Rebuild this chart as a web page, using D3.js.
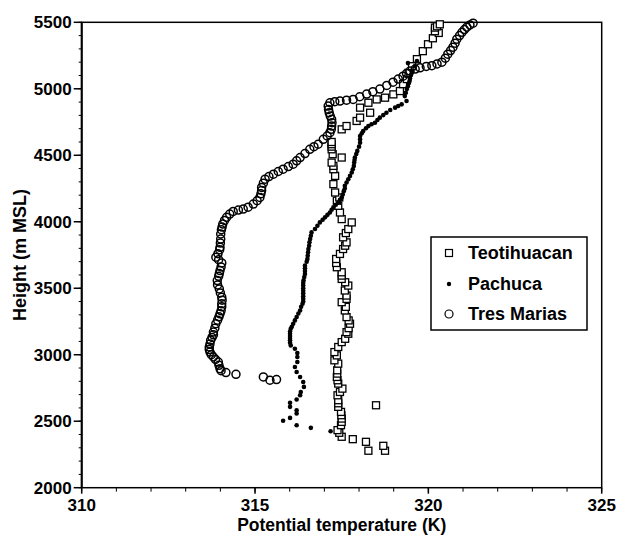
<!DOCTYPE html>
<html><head><meta charset="utf-8">
<script src="https://cdn.jsdelivr.net/npm/d3@7"></script>
<style>body{margin:0;background:#fff}svg{display:block}text{font-family:"Liberation Sans",Arial,sans-serif;font-weight:bold;fill:#000}</style>
</head><body><svg id="c" width="617" height="535"></svg>
<script>
const xTicks = [310, 315, 320, 325];
const yTicks = [2000, 2500, 3000, 3500, 4000, 4500, 5000, 5500];
const seriesNames = ["Teotihuacan", "Pachuca", "Tres Marias"];
const xLabel = "Potential temperature (K)";
const yLabel = "Height (m MSL)";

const teotihuacan = [[318.75,2278],[318.27,2278],[318.70,2315],[318.20,2345],[317.82,2365],[317.50,2383],[317.43,2413],[317.38,2433],[317.48,2470],[317.50,2495],[317.50,2520],[317.49,2545],[317.48,2570],[317.40,2608],[318.49,2620],[317.40,2635],[317.40,2658],[317.38,2695],[317.45,2720],[317.52,2745],[317.40,2783],[317.38,2808],[317.36,2833],[317.37,2858],[317.37,2883],[317.40,2933],[317.29,2958],[317.36,2995],[317.29,3020],[317.40,3058],[317.50,3095],[317.60,3120],[317.69,3158],[317.64,3170],[317.70,3200],[317.74,3233],[317.70,3258],[317.64,3283],[317.59,3333],[317.62,3360],[317.50,3395],[317.64,3420],[317.64,3445],[317.59,3483],[317.69,3520],[317.60,3545],[317.50,3570],[317.50,3595],[317.50,3620],[317.36,3658],[317.34,3690],[317.34,3720],[317.45,3758],[317.54,3795],[317.60,3820],[317.64,3845],[317.54,3883],[317.62,3915],[317.69,3945],[317.79,3995],[317.50,4020],[317.45,4070],[317.40,4120],[317.36,4158],[317.43,4183],[317.31,4220],[317.26,4283],[317.31,4345],[317.26,4395],[317.26,4420],[317.21,4445],[317.50,4483],[317.24,4508],[317.21,4545],[317.21,4565],[317.21,4583],[317.21,4600],[317.50,4695],[317.64,4720],[317.93,4758],[318.03,4783],[318.32,4820],[318.03,4858],[318.27,4895],[318.51,4920],[318.75,4933],[318.99,4958],[319.18,4983],[319.27,5035],[319.38,5073],[319.43,5120],[319.53,5170],[319.67,5223],[319.84,5283],[319.99,5335],[320.13,5380],[320.30,5420],[320.19,5433],[320.19,5460],[320.25,5470],[320.33,5485]];

const pachuca = [[317.18,2425],[316.61,2450],[316.20,2470],[315.81,2503],[316.01,2525],[316.20,2558],[316.20,2583],[316.01,2608],[316.01,2638],[316.20,2663],[316.30,2695],[316.32,2720],[316.41,2758],[316.39,2795],[316.30,2833],[316.20,2870],[316.15,2908],[316.22,2945],[316.22,2983],[316.22,3013],[316.15,3045],[316.03,3070],[316.01,3090],[316.01,3108],[316.01,3125],[316.01,3140],[316.01,3158],[316.01,3175],[316.03,3195],[316.06,3210],[316.10,3233],[316.15,3258],[316.20,3283],[316.25,3310],[316.30,3333],[316.33,3360],[316.37,3383],[316.39,3400],[316.39,3420],[316.39,3440],[316.39,3460],[316.39,3480],[316.39,3500],[316.39,3520],[316.39,3540],[316.40,3560],[316.42,3585],[316.44,3608],[316.44,3630],[316.44,3650],[316.44,3670],[316.49,3700],[316.51,3720],[316.52,3745],[316.53,3770],[316.54,3795],[316.56,3820],[316.57,3845],[316.59,3870],[316.61,3895],[316.63,3920],[316.73,3945],[316.80,3970],[316.87,3995],[316.95,4015],[317.02,4033],[317.09,4052],[317.16,4070],[317.21,4090],[317.26,4108],[317.33,4128],[317.40,4145],[317.45,4165],[317.50,4183],[317.53,4205],[317.56,4230],[317.59,4250],[317.59,4270],[317.64,4295],[317.69,4320],[317.74,4345],[317.79,4370],[317.82,4395],[317.85,4420],[317.86,4445],[317.87,4465],[317.88,4483],[317.92,4510],[317.95,4533],[318.00,4565],[318.03,4595],[318.03,4620],[318.03,4645],[318.08,4665],[318.12,4683],[318.20,4703],[318.27,4720],[318.36,4733],[318.46,4745],[318.53,4765],[318.60,4783],[318.70,4802],[318.79,4820],[318.90,4840],[319.04,4858],[319.13,4870],[319.23,4883],[319.37,4908],[319.32,4945],[319.35,4970],[319.38,4998],[319.41,5020],[319.44,5043],[319.46,5060],[319.47,5080],[319.50,5105],[319.53,5133],[319.61,5170],[319.41,5193],[319.67,5208]];

const tresMarias = [[315.62,2813],[315.43,2808],[315.24,2833],[314.45,2853],[314.16,2866],[314.02,2880],[313.99,2895],[313.96,2920],[313.94,2945],[313.86,2965],[313.80,2983],[313.74,3000],[313.70,3020],[313.68,3040],[313.68,3058],[313.70,3080],[313.72,3108],[313.76,3130],[313.80,3150],[313.80,3170],[313.84,3200],[313.87,3233],[313.92,3260],[313.96,3285],[313.99,3308],[314.02,3330],[314.04,3360],[314.04,3383],[314.05,3410],[314.04,3433],[314.00,3465],[313.97,3495],[313.92,3525],[313.91,3558],[313.95,3590],[313.97,3610],[313.99,3633],[314.02,3660],[314.04,3690],[313.95,3715],[313.87,3733],[313.93,3760],[313.98,3790],[313.99,3808],[314.00,3840],[314.01,3870],[314.01,3908],[314.03,3940],[314.05,3960],[314.07,3983],[314.12,4010],[314.18,4033],[314.27,4058],[314.37,4078],[314.52,4088],[314.66,4095],[314.80,4110],[314.95,4133],[315.06,4158],[315.14,4183],[315.17,4210],[315.19,4235],[315.19,4258],[315.24,4290],[315.29,4320],[315.40,4340],[315.53,4358],[315.67,4378],[315.81,4395],[315.96,4415],[316.10,4433],[316.20,4458],[316.30,4483],[316.44,4513],[316.58,4545],[316.70,4565],[316.82,4583],[316.97,4620],[317.08,4645],[317.16,4670],[317.20,4695],[317.21,4720],[317.22,4745],[317.21,4770],[317.17,4795],[317.14,4820],[317.12,4845],[317.11,4870],[317.16,4895],[317.30,4903],[317.45,4908],[317.64,4914],[317.83,4920],[318.02,4940],[318.22,4960],[318.40,4978],[318.60,4998],[318.80,5025],[318.98,5050],[319.13,5073],[319.27,5095],[319.37,5115],[319.47,5133],[319.62,5148],[319.76,5158],[319.94,5168],[320.10,5174],[320.25,5187],[320.39,5200],[320.49,5230],[320.56,5260],[320.64,5287],[320.71,5313],[320.77,5343],[320.82,5373],[320.90,5400],[320.97,5425],[321.04,5445],[321.11,5463],[321.20,5480],[321.29,5493]];

const svg = d3.select("#c");
const x = d3.scaleLinear().domain([310, 325]).range([81.7, 601.7]);
const y = d3.scaleLinear().domain([2000, 5500]).range([487.7, 22.3]);

// frame
svg.append("rect").attr("x", x(310)).attr("y", y(5500)).attr("width", x(325) - x(310)).attr("height", y(2000) - y(5500))
  .attr("fill", "none").attr("stroke", "#000").attr("stroke-width", 1.5);

// y axis
const yMinor = d3.range(2000, 5501, 100);
const gy = svg.append("g");
gy.selectAll("line.mi").data(yMinor).join("line").attr("x1", x(310) - 3).attr("x2", x(310))
  .attr("y1", d => y(d)).attr("y2", d => y(d)).attr("stroke", "#000").attr("stroke-width", 1);
gy.selectAll("line.ma").data(yTicks).join("line").attr("x1", x(310) - 8).attr("x2", x(310))
  .attr("y1", d => y(d)).attr("y2", d => y(d)).attr("stroke", "#000").attr("stroke-width", 1.5);
gy.selectAll("text").data(yTicks).join("text").attr("x", x(310) - 10).attr("y", d => y(d)).attr("dy", "0.36em")
  .attr("text-anchor", "end").attr("font-size", 17).text(d => d);
svg.append("line").attr("x1", x(310)).attr("x2", x(310)).attr("y1", y(2000)).attr("y2", y(5500)).attr("stroke", "#000").attr("stroke-width", 2);

// x axis
const xMinor = d3.range(310, 325.01, 1);
const gx = svg.append("g");
gx.selectAll("line.mi").data(xMinor).join("line").attr("x1", d => x(d)).attr("x2", d => x(d))
  .attr("y1", y(2000)).attr("y2", y(2000) + 4).attr("stroke", "#000").attr("stroke-width", 1);
gx.selectAll("line.ma").data(xTicks).join("line").attr("x1", d => x(d)).attr("x2", d => x(d))
  .attr("y1", y(2000)).attr("y2", y(2000) + 6).attr("stroke", "#000").attr("stroke-width", 1.5);
gx.selectAll("text").data(xTicks).join("text").attr("x", d => x(d)).attr("y", 511)
  .attr("text-anchor", "middle").attr("font-size", 17).text(d => d);

svg.append("text").attr("x", (x(310) + x(325)) / 2).attr("y", 531).attr("text-anchor", "middle").attr("font-size", 17.5).text(xLabel);
svg.append("text").attr("transform", `translate(26,${(y(2000) + y(5500)) / 2}) rotate(-90)`).attr("text-anchor", "middle").attr("font-size", 18).text(yLabel);

// data
const plot = svg.append("g");
plot.selectAll("rect.t").data(teotihuacan).join("rect").attr("class", "t")
  .attr("x", d => x(d[0]) - 3.5).attr("y", d => y(d[1]) - 3.5).attr("width", 7).attr("height", 7)
  .attr("fill", "#fff").attr("stroke", "#000").attr("stroke-width", 1.3);
plot.selectAll("circle.m").data(tresMarias).join("circle").attr("class", "m")
  .attr("cx", d => x(d[0])).attr("cy", d => y(d[1])).attr("r", 4)
  .attr("fill", "none").attr("stroke", "#000").attr("stroke-width", 1.5);
plot.selectAll("circle.p").data(pachuca).join("circle").attr("class", "p")
  .attr("cx", d => x(d[0])).attr("cy", d => y(d[1])).attr("r", 2.3).attr("fill", "#000");

// legend
const lg = svg.append("g");
lg.append("rect").attr("x", 431).attr("y", 237).attr("width", 156).attr("height", 93)
  .attr("fill", "#fff").attr("stroke", "#000").attr("stroke-width", 1.5);
const ly = [253, 284, 314];
lg.append("rect").attr("x", 449 - 3.5).attr("y", ly[0] - 3.5).attr("width", 7).attr("height", 7).attr("fill", "#fff").attr("stroke", "#000").attr("stroke-width", 1.2);
lg.append("circle").attr("cx", 449).attr("cy", ly[1]).attr("r", 2.2).attr("fill", "#000");
lg.append("circle").attr("cx", 449).attr("cy", ly[2]).attr("r", 4).attr("fill", "#fff").attr("stroke", "#000").attr("stroke-width", 1.2);
lg.selectAll("text").data(seriesNames).join("text").attr("x", 468).attr("y", (d, i) => ly[i]).attr("dy", "0.36em")
  .attr("font-size", 18).text(d => d);
</script></body></html>
